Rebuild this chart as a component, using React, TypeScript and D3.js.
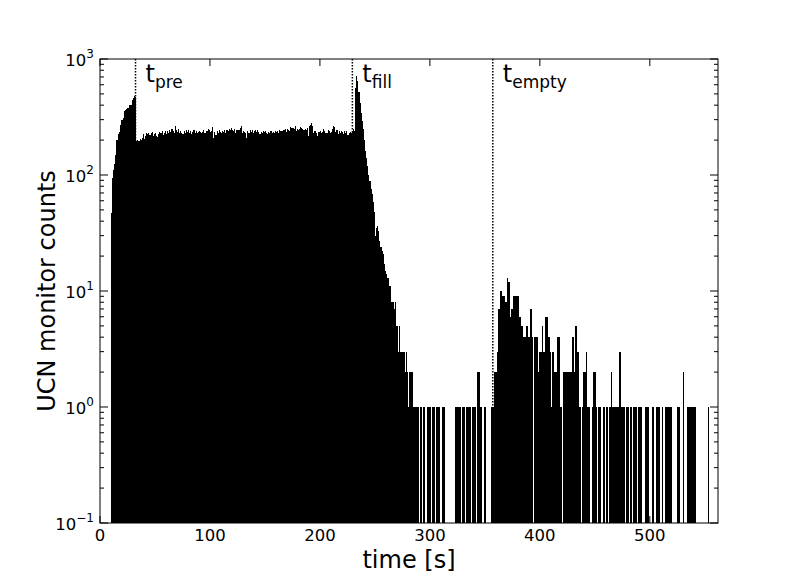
import React from "react";
import * as d3 from "d3";

// UCN monitor counts per 1 s bin, t = 0 .. 561 s
const leadZeros = [0, 0, 0, 0, 0, 0, 0, 0, 0, 0];
const riseCounts = [47, 94, 110, 125, 150, 200, 225, 235, 270, 300, 300, 310, 355, 360, 370, 380, 400, 405, 400, 440, 460, 480, 470];
const plateauCounts = [
  195, 200, 198, 205, 202, 210, 225,
  205, 215, 230, 225, 232, 220, 228, 236, 215, 224,
  230, 218, 212, 225, 235, 228, 240, 222, 230, 238,
  226, 240, 232, 244, 236, 248, 240, 230, 262, 245,
  236, 250, 228, 238, 232, 224, 240, 232, 246, 236,
  242, 230, 238, 226, 234, 244, 232, 238, 230, 236,
  240, 234, 228, 236, 246, 232, 240, 238, 250, 244,
  236, 240, 258, 210, 236, 222, 238, 230, 244, 236,
  232, 240, 236, 242, 230, 246, 238, 250, 244, 252,
  246, 238, 250, 230, 242, 246, 244, 256, 262, 232,
  240, 236, 228, 210, 238, 232, 242, 236, 244, 230,
  238, 246, 234, 242, 236, 226, 234, 230, 240, 236,
  238, 232, 226, 236, 230, 240, 232, 236, 230, 238,
  236, 240, 232, 244, 240, 238, 246, 242, 250, 236,
  248, 246, 240, 258, 252, 256, 248, 262, 238, 250,
  242, 248, 260, 254, 250, 244, 250, 244, 254, 216,
  262, 270, 280, 266, 232, 240, 230, 216, 236, 234,
  238, 232, 236, 248, 240, 228, 230, 242, 240, 228,
  236, 250, 266, 258, 234, 244, 226, 238, 230, 240,
  236, 226, 240, 232, 238, 220, 232, 236, 230,
];
const fillPeakCounts = [240, 250, 240, 560, 720, 640, 520, 420, 340, 290, 250, 200, 160, 140, 120, 100, 88, 76, 68, 58, 48];
const decayCounts = [30, 35, 36, 33, 27, 24, 22, 21, 17, 15, 14, 13, 13, 11, 11];
const tailCounts = [8, 8, 7, 8, 5, 5, 3, 5, 3, 3, 3, 3, 2, 3, 2, 1, 2, 2, 2, 2, 1, 1, 1, 1, 1];
const storageCounts = [
  0, 1, 1, 0, 1, 1, 0, 1, 1, 1, 1, 0, 1, 1, 1, 0, 1, 1, 1, 0,
  0, 1, 1, 1, 0, 0, 0, 0, 0, 0, 0, 0, 0, 1, 1, 1, 1, 1, 0, 1,
  1, 1, 0, 1, 1, 1, 1, 0, 1, 1, 1, 1, 0, 2, 2, 2, 1, 0, 0, 1,
  1, 0, 0, 0, 0, 0, 1, 1,
];
const emptyCounts = [
  2, 2, 2, 3, 7, 7, 10, 10, 9, 9, 8, 8, 13, 12, 12, 6, 7, 7, 9, 9,
  9, 9, 9, 6, 6, 5, 5, 4, 4, 5, 5, 4, 4, 7, 7, 4, 0, 4, 4, 4,
  2, 3, 3, 3, 5, 3, 3, 6, 6, 4, 4, 3, 1, 3, 3, 2, 2, 2, 4, 4,
];
const lateCounts = [
  1, 1, 0, 2, 2, 2, 2, 2, 2, 2, 2, 4, 4, 2, 5, 5, 3, 3, 1, 0,
  1, 2, 2, 2, 3, 1, 1, 1, 0, 1, 2, 2, 2, 1, 0, 1, 1, 1, 0, 1,
  1, 0, 1, 1, 0, 1, 1, 2, 1, 1, 1, 1, 1, 1, 3, 3, 1, 1, 1, 0,
  1, 1, 1, 0,
];
const endCounts = [
  1, 1, 0, 1, 1, 1, 0, 1, 1, 1, 1, 0, 0, 0, 1, 1, 1, 0, 0, 0,
  1, 1, 0, 0, 1, 1, 1, 0, 0, 1, 0, 0, 1, 1, 1, 1, 1, 1, 0, 0,
  0, 0, 0, 1, 1, 0, 0, 0, 2, 0, 0, 0, 1, 1, 1, 1, 1, 1, 1, 1,
  0, 0, 0, 0, 0, 0, 0, 0, 0, 0, 0, 1, 0, 0, 0, 0, 0, 0, 0, 0,
];

const counts: number[] = [
  ...leadZeros, ...riseCounts, ...plateauCounts, ...fillPeakCounts, ...decayCounts,
  ...tailCounts, ...storageCounts, ...emptyCounts, ...lateCounts, ...endCounts,
];

const xTicks = [0, 100, 200, 300, 400, 500];
const yExponents = [-1, 0, 1, 2, 3];
const markerTimes = [32.3, 229.5, 357.2];
const markerLabels = ["pre", "fill", "empty"];

const W = 801;
const H = 584;
const L = 100, R = 718, T = 59, B = 523;
const FONT = "DejaVu Sans, sans-serif";

export default function App() {
  const x = d3.scaleLinear().domain([0, 562]).range([L, R]);
  const y = d3.scaleLog().domain([0.1, 1000]).range([B, T]);

  const minor: number[] = [];
  yExponents.slice(0, -1).forEach((e) => {
    for (let k = 2; k <= 9; k++) minor.push(k * Math.pow(10, e));
  });

  return (
    <div style={{ position: "absolute", left: 0, top: 0, width: W, height: H, background: "#fff" }}>
      <svg width={W} height={H} style={{ display: "block" }}>
        <rect x={0} y={0} width={W} height={H} fill="#fff" />
        {/* marker lines */}
        {markerTimes.map((t, i) => (
          <line key={"m" + i} x1={x(t)} x2={x(t)} y1={T} y2={B} stroke="#000" strokeWidth={1.5} strokeDasharray="1.5 1.5" />
        ))}
        {/* histogram bars */}
        <g shapeRendering="crispEdges">
          {counts.map((v, i) =>
            v > 0 ? (
              <rect key={i} x={x(i)} width={x(i + 1) - x(i)} y={y(v)} height={B - y(v)} fill="#000" />
            ) : null
          )}
        </g>
        {/* marker labels */}
        {markerTimes.map((t, i) => (
          <text key={"lab" + i} x={x(t) + 10} y={82} fontFamily={FONT} fontSize={24} fill="#000">
            t
            <tspan fontSize={17} dy={6}>{markerLabels[i]}</tspan>
          </text>
        ))}
        {/* frame */}
        <rect x={L} y={T} width={R - L} height={B - T} fill="none" stroke="#000" strokeWidth={1} />
        {/* x ticks */}
        {xTicks.map((v) => (
          <g key={"xt" + v}>
            <line x1={x(v)} x2={x(v)} y1={B} y2={B - 7} stroke="#000" />
            <line x1={x(v)} x2={x(v)} y1={T} y2={T + 7} stroke="#000" />
            <text x={x(v)} y={B + 18} textAnchor="middle" fontFamily={FONT} fontSize={16.5} fill="#000">
              {v}
            </text>
          </g>
        ))}
        {/* y major ticks */}
        {yExponents.map((e) => {
          const yy = y(Math.pow(10, e));
          return (
            <g key={"yt" + e}>
              <line x1={L} x2={L + 8} y1={yy} y2={yy} stroke="#000" />
              <line x1={R} x2={R - 8} y1={yy} y2={yy} stroke="#000" />
              <text x={L - 6} y={yy + 7} textAnchor="end" fontFamily={FONT} fontSize={16.5} fill="#000">
                10
                <tspan fontSize={12} dy={-8}>{e < 0 ? "\u2212" + Math.abs(e) : String(e)}</tspan>
              </text>
            </g>
          );
        })}
        {/* y minor ticks */}
        {minor.map((v, i) => (
          <g key={"ym" + i}>
            <line x1={L} x2={L + 4} y1={y(v)} y2={y(v)} stroke="#000" />
            <line x1={R} x2={R - 4} y1={y(v)} y2={y(v)} stroke="#000" />
          </g>
        ))}
        {/* axis labels */}
        <text x={(L + R) / 2} y={568} textAnchor="middle" fontFamily={FONT} fontSize={24} fill="#000">
          time [s]
        </text>
        <text
          transform={`translate(55, ${(T + B) / 2}) rotate(-90)`}
          textAnchor="middle"
          fontFamily={FONT}
          fontSize={24}
          fill="#000"
        >
          UCN monitor counts
        </text>
      </svg>
    </div>
  );
}
